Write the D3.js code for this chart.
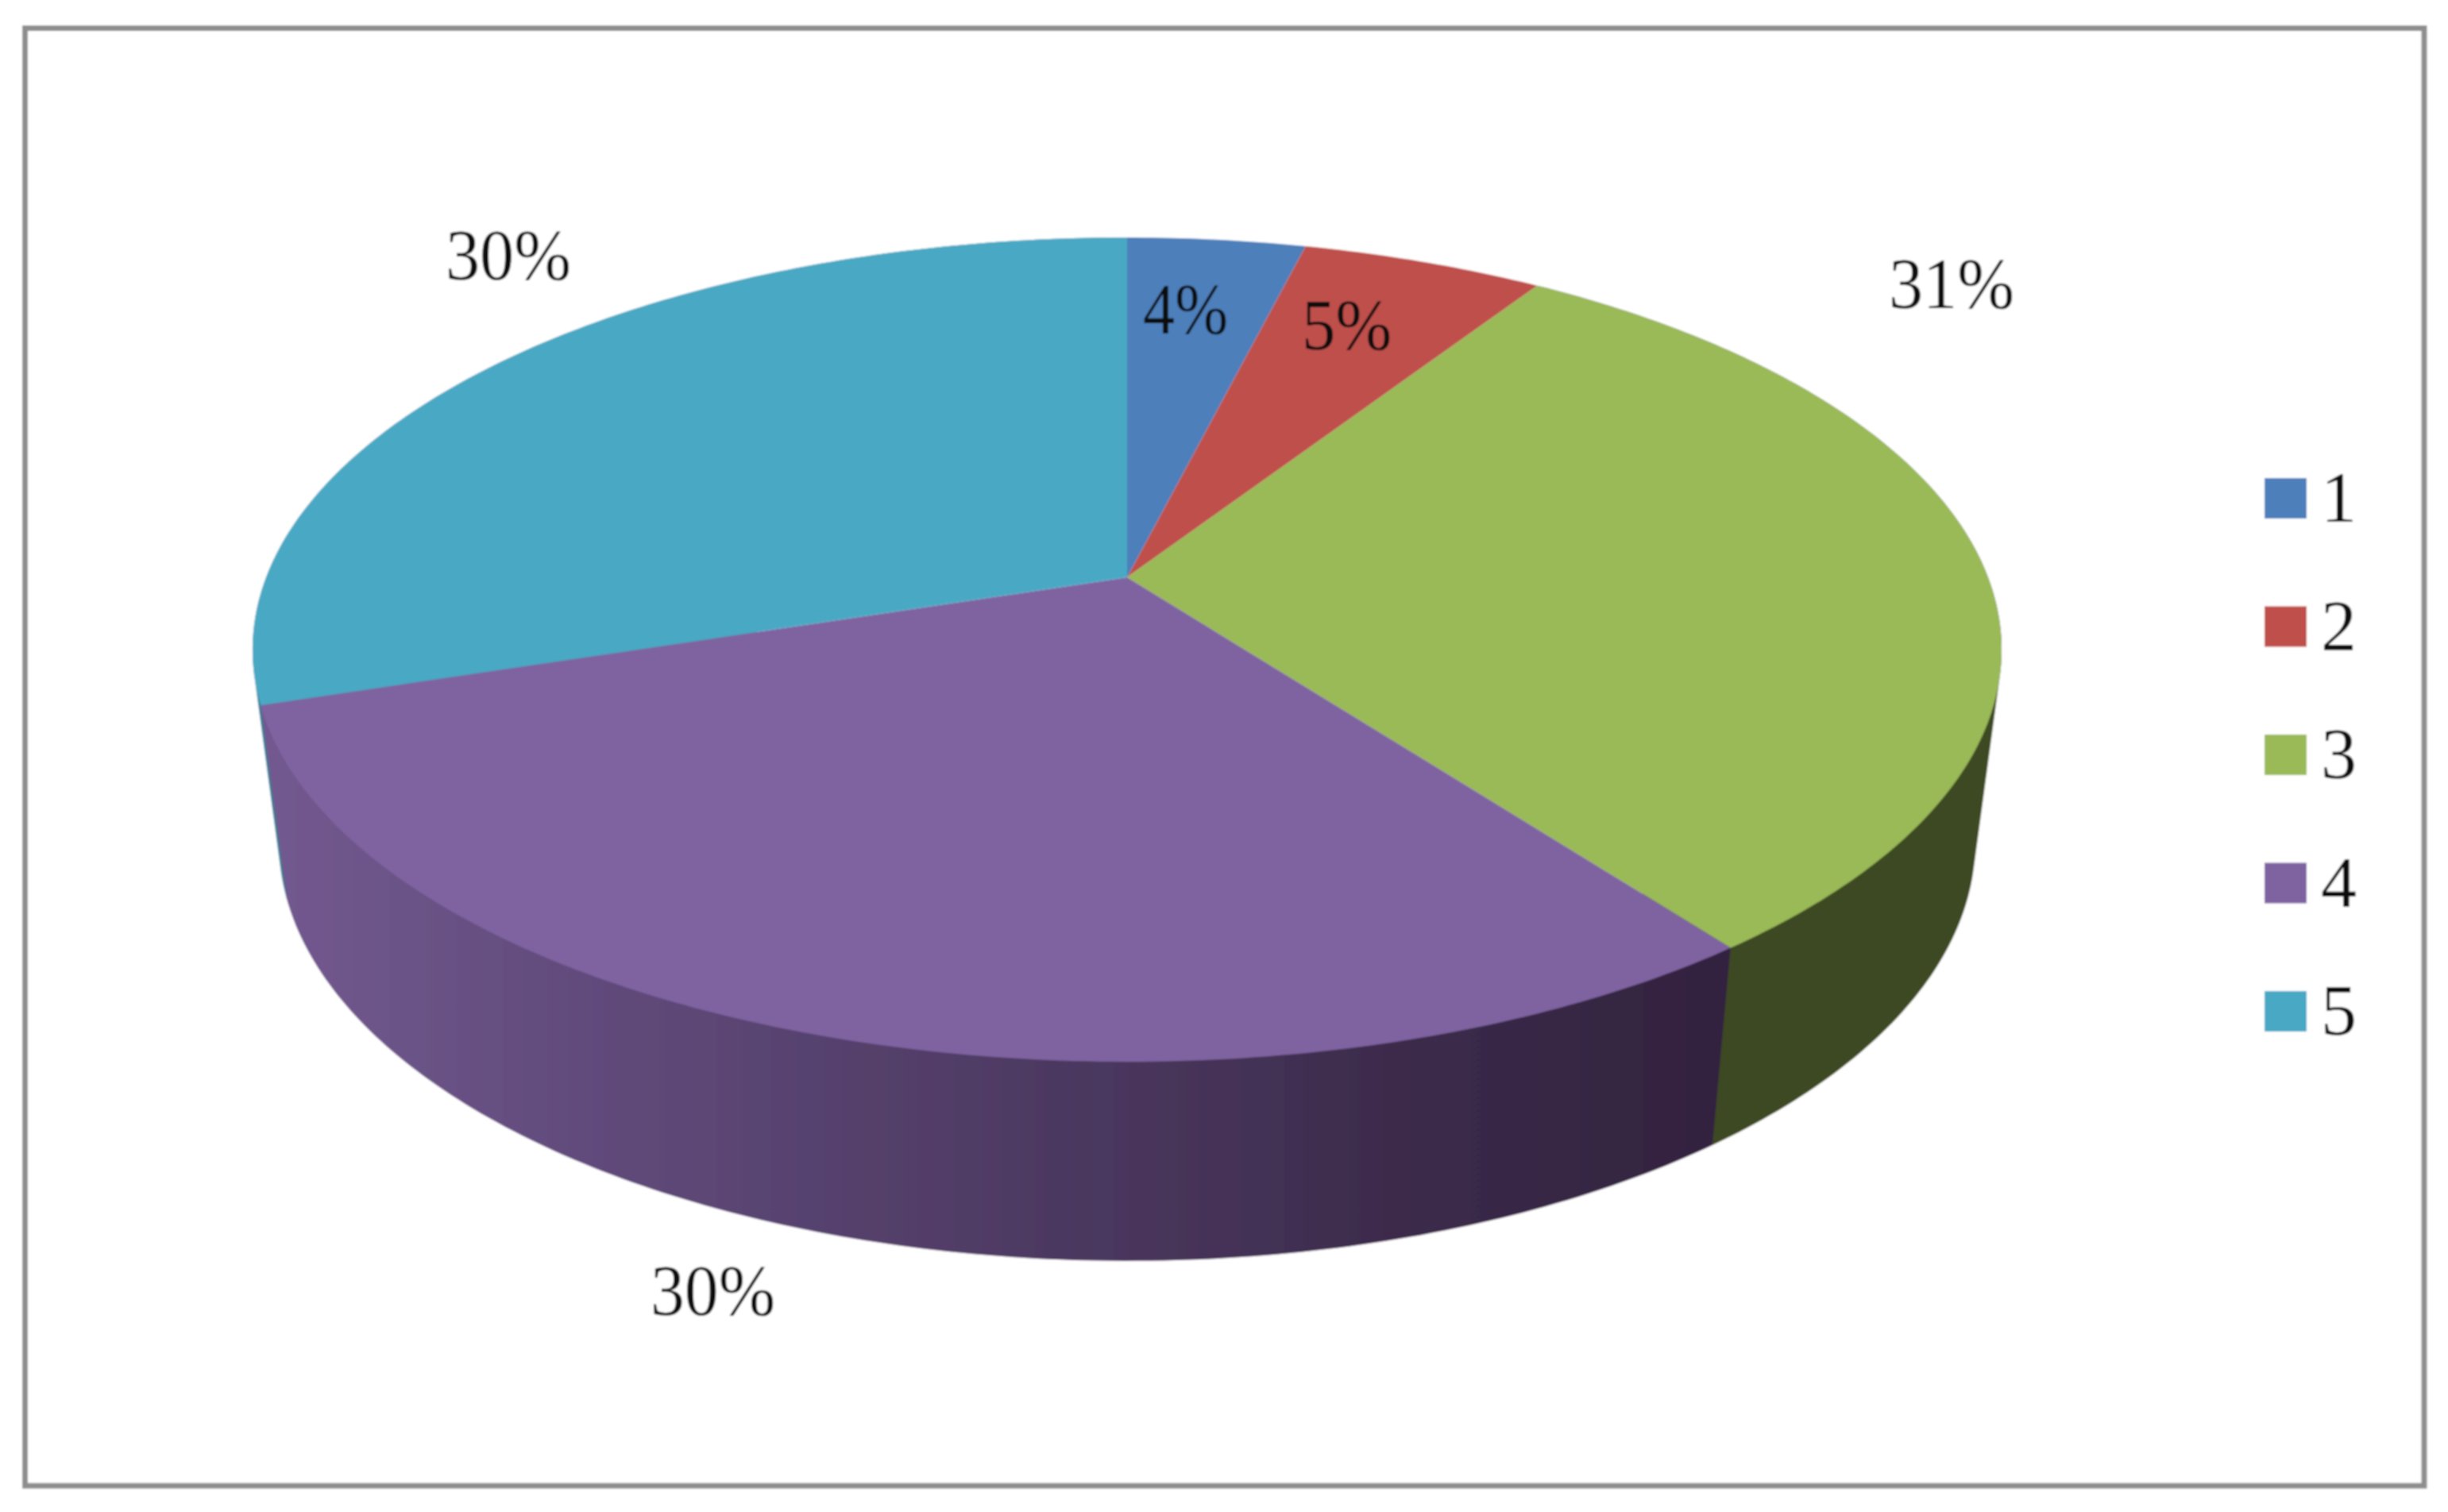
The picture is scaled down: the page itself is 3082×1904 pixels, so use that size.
<!DOCTYPE html>
<html lang="en">
<head>
  <meta charset="UTF-8" />
  <title>3D pie</title>
  <script src="https://d3js.org/d3.v7.min.js"></script>
  <style>
    body { margin: 0; background: #fff; }
    svg { display: block; }
    text { font-family: "Liberation Serif", serif; fill: #111; }
  </style>
</head>
<body>
  <svg id="chart" width="3082" height="1904"></svg>
  <script>
    // values, labels as printed
    const categories = ["1", "2", "3", "4", "5"];
    const shares = [3.9, 5.3, 30.5, 30.4, 29.9];
    const shareLabels = ["4%", "5%", "31%", "30%", "30%"];

    const topColors = ["#4e7fbb", "#bf504c", "#9aba59", "#7f63a1", "#4aa9c4"];
    const wallColors = ["#2e4d73", "#73302e", "#3e4922", "url(#purpleWall)", "#2f7f96"];

    const width = 3082, height = 1904;
    const cx = 1419, apexY = 727;
    // perspective disc, fitted to the outline of the top face
    const persp = -0.1753, spanX = 1084, spanY = 503;
    const midY = 818;
    // lower rim is a bit narrower and a bit taller than the top one
    const lowerMidY = 1060, lowerScaleX = 0.97, lowerScaleY = 1.0173;

    function projectTop(angle) {
      const x = Math.sin(angle), y = -Math.cos(angle);
      const w = 1 + persp * y;
      return [cx + spanX * x / w, apexY + spanY * y / w];
    }
    function projectBottom(angle) {
      const p = projectTop(angle);
      return [cx + (p[0] - cx) * lowerScaleX, lowerMidY + (p[1] - midY) * lowerScaleY];
    }
    function sampleAngles(d) {
      const n = Math.max(8, Math.ceil((d.endAngle - d.startAngle) * 80));
      return d3.range(n + 1).map(i => d.startAngle + (d.endAngle - d.startAngle) * i / n);
    }

    const svg = d3.select("#chart");
    const defs = svg.append("defs");

    const purple = defs.append("linearGradient")
      .attr("id", "purpleWall")
      .attr("gradientUnits", "userSpaceOnUse")
      .attr("x1", 340).attr("x2", 2160).attr("y1", 0).attr("y2", 0);
    [[0, "#72598f"], [0.25, "#5f4979"], [0.58, "#4a375e"], [0.8, "#3b2a4a"], [1, "#33233f"]].forEach(s => {
      purple.append("stop").attr("offset", s[0]).attr("stop-color", s[1]);
    });

    // the source is a slightly soft upscaled image
    defs.append("filter").attr("id", "soft")
      .attr("x", 0).attr("y", 0).attr("width", 1).attr("height", 1)
      .append("feGaussianBlur").attr("stdDeviation", 0.9);

    const root = svg.append("g").attr("filter", "url(#soft)");

    root.append("rect").attr("width", width).attr("height", height).attr("fill", "#fff");

    root.append("rect")
      .attr("x", 31.5).attr("y", 35.5)
      .attr("width", 3052 - 31.5).attr("height", 1871 - 35.5)
      .attr("fill", "#fff")
      .attr("stroke", "#8e8e8e")
      .attr("stroke-width", 7);

    const slices = d3.pie().sort(null).value(d => d)(shares);
    const line = d3.line();

    // side walls: hull of the two rims, the top face covers the rest
    const wallOrder = [4, 2, 3];
    root.append("g").selectAll("path")
      .data(wallOrder)
      .join("path")
      .attr("d", i => {
        const angles = sampleAngles(slices[i]);
        const pts = angles.map(projectTop).concat(angles.map(projectBottom));
        return line(d3.polygonHull(pts)) + "Z";
      })
      .attr("fill", i => wallColors[i]);

    root.append("g").selectAll("path")
      .data(slices)
      .join("path")
      .attr("d", d => line([[cx, apexY]].concat(sampleAngles(d).map(projectTop))) + "Z")
      .attr("fill", (d, i) => topColors[i]);

    // data labels, left x and baseline of each
    const labelSpots = [[1439, 420], [1639, 440], [2378, 388], [819, 1656], [561, 352]];
    const labelWidths = [107, 113, 158, 157, 158];
    root.append("g").selectAll("text")
      .data(shareLabels)
      .join("text")
      .attr("x", (d, i) => labelSpots[i][0])
      .attr("y", (d, i) => labelSpots[i][1])
      .attr("font-size", 92)
      .attr("textLength", (d, i) => labelWidths[i])
      .attr("lengthAdjust", "spacingAndGlyphs")
      .text(d => d);

    // legend
    const legendY = d3.scalePoint().domain(categories).range([628, 1274]);
    const legend = root.append("g").selectAll("g")
      .data(categories)
      .join("g")
      .attr("transform", d => `translate(0,${legendY(d)})`);
    legend.append("rect")
      .attr("x", 2851).attr("y", -26)
      .attr("width", 53).attr("height", 51)
      .attr("fill", (d, i) => topColors[i]);
    legend.append("text")
      .attr("x", 2922).attr("y", 29)
      .attr("font-size", 90)
      .text(d => d);
  </script>
</body>
</html>
